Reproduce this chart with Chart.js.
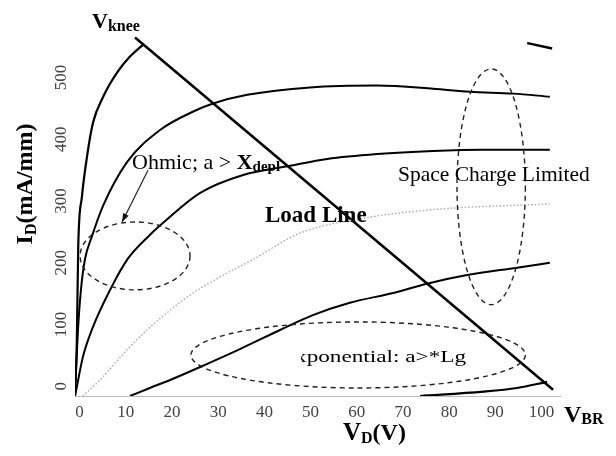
<!DOCTYPE html>
<html>
<head>
<meta charset="utf-8">
<script src="https://cdn.jsdelivr.net/npm/chart.js@4.4.0/dist/chart.umd.min.js"></script>
<style>
  body { margin: 0; background: #fff; }
  #ivChart { display: block; }
</style>
</head>
<body>
<canvas id="ivChart" width="616" height="456"></canvas>
<script>
// Charakterystyki I_D(V_D) - wartosci
const vgAx = [-1, -0.6, -0.3, 0.5, 1.6, 2.9, 5.1, 8.1, 10.9, 13.7];
const vgAy = [-16, 75, 226, 307, 372, 427, 469, 508, 534, 553];

const vgBx = [-1, -0.85, -0.35, 0.3, 1.17, 2.68, 5.07, 10.26, 17.4, 24.6, 28.9, 36.3, 49.9, 64.4, 76.5, 84.5, 93.8, 101.8];
const vgBy = [-16, 15, 92, 157, 206, 243, 292, 363, 415, 445, 458, 472, 484, 487, 482, 477, 474, 469];

const vgCx = [-1, -0.6, 0.7, 2.9, 6.6, 10.3, 15.2, 18.9, 26.1, 35.4, 45.6, 53.6, 64.4, 76.5, 87.3, 101.8];
const vgCy = [-16, -1, 47, 96, 156, 205, 245, 270, 313, 342, 357, 368, 376, 381, 383, 383];

const vgDx = [0.7, 4.4, 10.3, 14.6, 19.6, 24.6, 30.4, 37.5, 47.7, 62.2, 76.5, 87.3, 101.8];
const vgDy = [-16, 10, 59, 91, 123, 151, 177, 205, 248, 273, 286, 291, 295];

const vgEx = [10.9, 15.2, 19.6, 26.1, 34.7, 43.4, 50.5, 58.5, 67.9, 75.2, 83.9, 94.7, 101.8];
const vgEy = [-16, -3, 10, 31, 60, 91, 115, 135, 151, 166, 180, 192, 200];

const vgFx = [73.7, 87.4, 94.7, 101.2];
const vgFy = [-16, -9, -3, 7];

const loadLineX = [12.0, 102.5];
const loadLineY = [565, -6];

const markX = [96.9, 102.3];
const markY = [556, 547];

const xTicks = [0, 10, 20, 30, 40, 50, 60, 70, 80, 90, 100];
const yTicks = [0, 100, 200, 300, 400, 500];

// elipsy: [srodek x, srodek y, promien x, promien y] w jednostkach osi
const ohmicEllipse = [12.0, 211, 11.9, 55];
const spaceEllipse = [89.1, 323, 7.4, 191];
const expEllipse = [60.3, 50.5, 36.2, 53.5];

// strzalka od napisu Ohmic
const arrowX = [14.8, 9.2];
const arrowY = [350, 266];

function toPoints(xs, ys) {
  let pts = [];
  for (let i = 0; i < xs.length; i++) {
    pts.push({ x: xs[i], y: ys[i] });
  }
  return pts;
}

function curve(xs, ys, color, width, dash) {
  return {
    data: toPoints(xs, ys),
    showLine: true,
    borderColor: color,
    backgroundColor: color,
    borderWidth: width,
    borderDash: dash || [],
    pointRadius: 0,
    cubicInterpolationMode: 'monotone',
    fill: false
  };
}

function drawEllipse(ctx, xs, ys, e) {
  let cx = xs.getPixelForValue(e[0]);
  let cy = ys.getPixelForValue(e[1]);
  let rx = Math.abs(xs.getPixelForValue(e[0] + e[2]) - cx);
  let ry = Math.abs(ys.getPixelForValue(e[1] + e[3]) - cy);
  ctx.beginPath();
  ctx.ellipse(cx, cy, rx, ry, 0, 0, Math.PI * 2);
  ctx.stroke();
}

// tekst z indeksem dolnym
function subText(ctx, x, y, main, sub, mainFont, subFont, subDy) {
  ctx.font = mainFont;
  ctx.fillText(main, x, y);
  let w = ctx.measureText(main).width;
  ctx.font = subFont;
  ctx.fillText(sub, x + w, y + subDy);
  return w + ctx.measureText(sub).width;
}

const annotations = {
  id: 'annotations',
  afterDatasetsDraw(chart) {
    let ctx = chart.ctx;
    let xs = chart.scales.x;
    let ys = chart.scales.y;

    ctx.save();
    // elipsy przerywane
    ctx.strokeStyle = '#222';
    ctx.lineWidth = 1.4;
    ctx.setLineDash([5, 4]);
    drawEllipse(ctx, xs, ys, ohmicEllipse);
    drawEllipse(ctx, xs, ys, spaceEllipse);
    drawEllipse(ctx, xs, ys, expEllipse);
    ctx.setLineDash([]);

    // strzalka
    let x1 = xs.getPixelForValue(arrowX[0]), y1 = ys.getPixelForValue(arrowY[0]);
    let x2 = xs.getPixelForValue(arrowX[1]), y2 = ys.getPixelForValue(arrowY[1]);
    ctx.lineWidth = 1.2;
    ctx.beginPath();
    ctx.moveTo(x1, y1);
    ctx.lineTo(x2, y2);
    ctx.stroke();
    let ang = Math.atan2(y2 - y1, x2 - x1);
    ctx.fillStyle = '#111';
    ctx.beginPath();
    ctx.moveTo(x2, y2);
    ctx.lineTo(x2 - 9 * Math.cos(ang - 0.35), y2 - 9 * Math.sin(ang - 0.35));
    ctx.lineTo(x2 - 9 * Math.cos(ang + 0.35), y2 - 9 * Math.sin(ang + 0.35));
    ctx.closePath();
    ctx.fill();

    // etykiety osi Y obrocone
    ctx.fillStyle = '#444';
    ctx.font = '17px "Liberation Serif"';
    ctx.textAlign = 'center';
    ctx.textBaseline = 'middle';
    yTicks.forEach(function(v) {
      ctx.save();
      ctx.translate(62, ys.getPixelForValue(v));
      ctx.rotate(-Math.PI / 2);
      ctx.fillText(String(v), 0, 0);
      ctx.restore();
    });

    ctx.textAlign = 'left';
    ctx.textBaseline = 'alphabetic';
    ctx.fillStyle = '#000';

    // tytul osi Y
    ctx.save();
    ctx.translate(32, 184);
    ctx.rotate(-Math.PI / 2);
    ctx.font = 'bold 24px "Liberation Serif"';
    let wI = ctx.measureText('I').width;
    ctx.font = 'bold 16px "Liberation Serif"';
    let wD = ctx.measureText('D').width;
    ctx.font = 'bold 24px "Liberation Serif"';
    let wR = ctx.measureText('(mA/mm)').width;
    let sx = -(wI + wD + wR) / 2;
    subText(ctx, sx, 0, 'I', 'D', 'bold 24px "Liberation Serif"', 'bold 16px "Liberation Serif"', 4);
    ctx.font = 'bold 24px "Liberation Serif"';
    ctx.fillText('(mA/mm)', sx + wI + wD, 0);
    ctx.restore();

    // tytul osi X
    let w = subText(ctx, 343, 440, 'V', 'D', 'bold 25px "Liberation Serif"', 'bold 16px "Liberation Serif"', 3);
    ctx.font = 'bold 24px "Liberation Serif"';
    ctx.fillText('(V)', 343 + w, 440);

    // V_BR, V_knee
    subText(ctx, 564, 422, 'V', 'BR', 'bold 24px "Liberation Serif"', 'bold 16px "Liberation Serif"', 2);
    subText(ctx, 92, 28, 'V', 'knee', 'bold 22px "Liberation Serif"', 'bold 16px "Liberation Serif"', 3);

    // opisy obszarow
    ctx.font = '22px "Liberation Serif"';
    ctx.fillText('Ohmic; a > ', 132, 169);
    let wo = ctx.measureText('Ohmic; a > ').width;
    subText(ctx, 132 + wo, 169, 'X', 'depl', 'bold 22px "Liberation Serif"', 'bold 15px "Liberation Serif"', 2);

    ctx.font = 'bold 23px "Liberation Serif"';
    ctx.fillText('Load Line', 265, 222);

    ctx.font = '21.5px "Liberation Serif"';
    ctx.fillText('Space Charge Limited', 398, 181);

    // napis czesciowo zasloniety - przyciety z lewej
    ctx.save();
    ctx.beginPath();
    ctx.rect(301, 330, 200, 50);
    ctx.clip();
    ctx.font = '16px "Liberation Serif"';
    let t = 'Exponential: a>*Lg';
    let tw = ctx.measureText(t).width;
    ctx.translate(466, 362);
    ctx.scale(1.45, 1);
    ctx.fillText(t, -tw, 0);
    ctx.restore();

    ctx.restore();
  }
};

let ivChart = new Chart(document.getElementById('ivChart'), {
  type: 'scatter',
  data: {
    datasets: [
      curve(vgAx, vgAy, '#000', 2.2),
      curve(vgBx, vgBy, '#000', 2),
      curve(vgCx, vgCy, '#000', 2),
      curve(vgDx, vgDy, '#aaa', 1.4, [1.5, 2]),
      curve(vgEx, vgEy, '#000', 2),
      curve(vgFx, vgFy, '#000', 2.2),
      curve(loadLineX, loadLineY, '#000', 2.5),
      curve(markX, markY, '#000', 2.5)
    ]
  },
  options: {
    responsive: false,
    animation: false,
    layout: { padding: { top: 35, right: 56, left: 0, bottom: 0 } },
    plugins: {
      legend: { display: false },
      tooltip: { enabled: false }
    },
    scales: {
      x: {
        type: 'linear',
        min: -1,
        max: 104,
        grid: { display: false, drawTicks: false },
        border: { display: true, color: '#bbb', width: 1, dash: [1, 2] },
        afterBuildTicks: function(scale) {
          scale.ticks = xTicks.map(v => ({ value: v }));
        },
        afterFit: function(scale) { scale.height = 60; },
        ticks: {
          padding: 6,
          maxRotation: 0,
          autoSkip: false,
          color: '#444',
          font: { family: 'Liberation Serif', size: 17 }
        }
      },
      y: {
        type: 'linear',
        min: -16,
        max: 569,
        grid: { display: false, drawTicks: false },
        border: { display: false },
        afterBuildTicks: function(scale) {
          scale.ticks = yTicks.map(v => ({ value: v }));
        },
        afterFit: function(scale) { scale.width = 75; },
        ticks: { display: false }
      }
    }
  },
  plugins: [annotations]
});
</script>
</body>
</html>
